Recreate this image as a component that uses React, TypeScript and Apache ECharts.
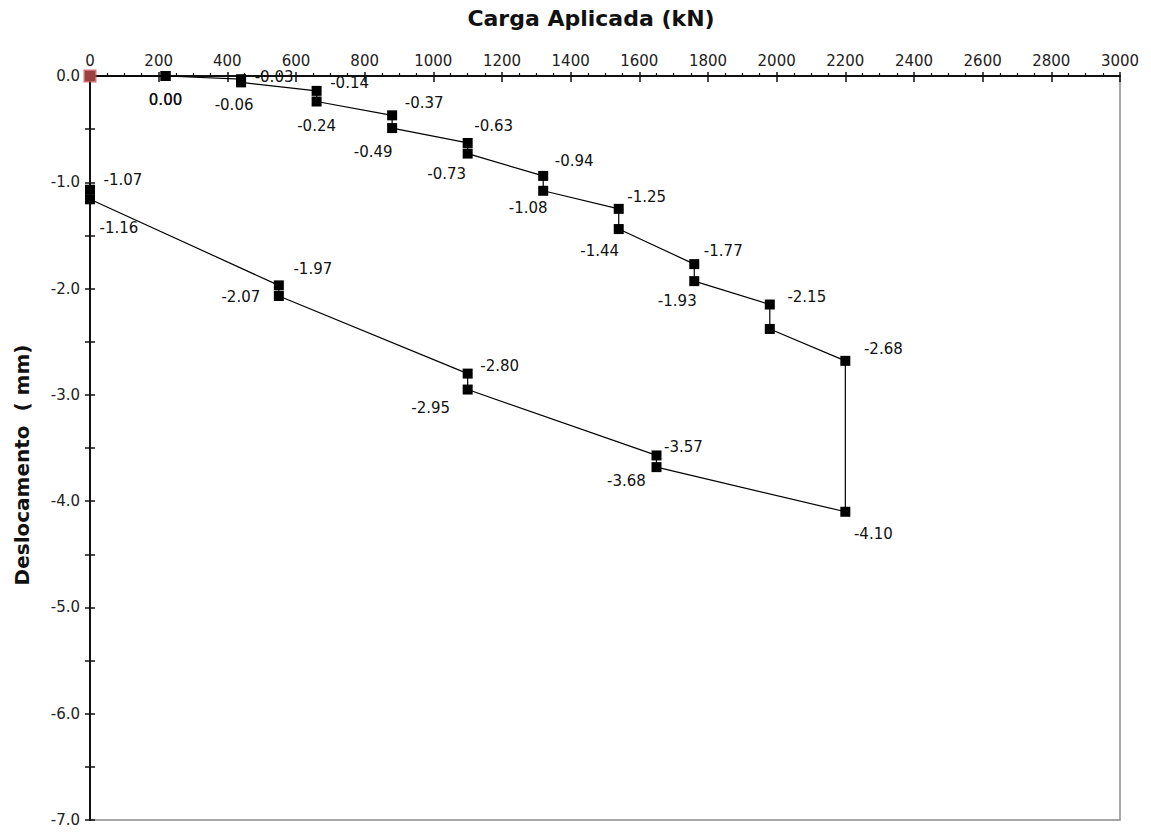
import React, { useEffect, useRef } from "react";
import * as echarts from "echarts";

// Load (kN) and displacement (mm) readings, in test order
const loads = [0, 220, 220, 440, 440, 660, 660, 880, 880, 1100, 1100, 1320, 1320, 1540, 1540, 1760, 1760, 1980, 1980, 2200, 2200, 1650, 1650, 1100, 1100, 550, 550, 0, 0];
const displacements = [0, 0.0, 0.0, -0.03, -0.06, -0.14, -0.24, -0.37, -0.49, -0.63, -0.73, -0.94, -1.08, -1.25, -1.44, -1.77, -1.93, -2.15, -2.38, -2.68, -4.1, -3.68, -3.57, -2.95, -2.8, -2.07, -1.97, -1.16, -1.07];

// Label placement for each reading (pixel offset from marker centre); null = no label
const labelOffsets: ([number, number] | null)[] = [
  null, [0, 24], [0, 24], [33, -2], [-7, 23], [33, -8], [0, 24], [32, -12], [-19, 24],
  [26, -17], [-21, 20], [31, -15], [-15, 17], [28, -12], [-19, 22], [29, -13], [-17, 20],
  [37, -8], null, [38, -12], [28, 22], [-30, 14], [27, -8], [-37, 18], [32, -8],
  [-38, 1], [34, -16], [29, 29], [33, -10],
];

const xTitle = "Carga Aplicada (kN)";
const yTitle = "Deslocamento  ( mm)";
const xMin = 0, xMax = 3000, xStep = 200;
const yMin = -7, yMax = 0, yStep = 0.5;

export default function App() {
  const ref = useRef<HTMLDivElement>(null);
  useEffect(() => {
    if (!ref.current) return;
    const chart = echarts.init(ref.current, null, { renderer: "svg" });
    const font = "DejaVu Sans";
    const data = loads.map((x, i) => {
      const off = labelOffsets[i];
      return {
        value: [x, displacements[i]],
        label: off
          ? { show: true, position: "inside", offset: off, formatter: displacements[i].toFixed(2) }
          : { show: false },
      };
    });
    const baseX = { type: "value", min: xMin, max: xMax, interval: xStep, position: "top", gridIndex: 0 };
    const baseY = { type: "value", min: yMin, max: yMax, interval: yStep, position: "left", gridIndex: 0 };
    chart.setOption({
      animation: false,
      backgroundColor: "#fff",
      grid: {
        left: 90, right: 31, top: 76, bottom: 12,
        show: true, borderColor: "#8a8a8a", borderWidth: 1.5, backgroundColor: "transparent",
      },
      xAxis: [
        {
          ...baseX,
          axisLine: { show: true, onZero: false, lineStyle: { color: "#111", width: 2 } },
          axisTick: { show: true, inside: false, length: 4, lineStyle: { color: "#111", width: 1.5 } },
          minorTick: { show: true, splitNumber: 4, length: 3, lineStyle: { color: "#111", width: 1.2 } },
          axisLabel: {
            show: true, margin: 8, color: "#222", fontFamily: font, fontSize: 15,
            formatter: (v: number) => String(v),
          },
          splitLine: { show: false },
        },
        {
          ...baseX,
          axisLine: { show: false, onZero: false },
          axisTick: { show: true, inside: true, length: 6, lineStyle: { color: "#111", width: 1.5 } },
          axisLabel: { show: false },
          splitLine: { show: false },
        },
      ],
      yAxis: [
        {
          ...baseY,
          axisLine: { show: true, onZero: false, lineStyle: { color: "#111", width: 2 } },
          axisTick: { show: true, inside: false, length: 5, lineStyle: { color: "#111", width: 1.5 } },
          axisLabel: {
            show: true, margin: 10, color: "#222", fontFamily: font, fontSize: 15,
            formatter: (v: number) => (Math.abs(v % 1) < 1e-9 ? v.toFixed(1) : ""),
          },
          splitLine: { show: false },
        },
        {
          ...baseY,
          axisLine: { show: false, onZero: false },
          axisTick: { show: true, inside: true, length: 5, lineStyle: { color: "#111", width: 1.5 } },
          axisLabel: { show: false },
          splitLine: { show: false },
        },
      ],
      graphic: [
        {
          type: "text", x: 591, y: 18,
          style: { text: xTitle, font: `bold 22px '${font}'`, fill: "#111", textAlign: "center", textVerticalAlign: "middle" },
        },
        {
          type: "text", x: 22, y: 465, rotation: Math.PI / 2,
          style: { text: yTitle, font: `bold 20px '${font}'`, fill: "#111", textAlign: "center", textVerticalAlign: "middle" },
        },
      ],
      series: [
        {
          type: "line",
          xAxisIndex: 0, yAxisIndex: 0,
          data,
          symbol: "rect",
          symbolSize: 10,
          itemStyle: { color: "#000" },
          lineStyle: { color: "#000", width: 1.2 },
          label: { color: "#111", fontFamily: font, fontSize: 15 },
          z: 3,
        },
        {
          type: "scatter",
          xAxisIndex: 0, yAxisIndex: 0,
          data: [[loads[0], displacements[0]]],
          symbol: "rect",
          symbolSize: 13,
          itemStyle: { color: "#c0504d" },
          z: 4,
        },
      ],
    });
    return () => chart.dispose();
  }, []);
  return <div ref={ref} style={{ width: 1151, height: 832, position: "absolute", left: 0, top: 0 }} />;
}
